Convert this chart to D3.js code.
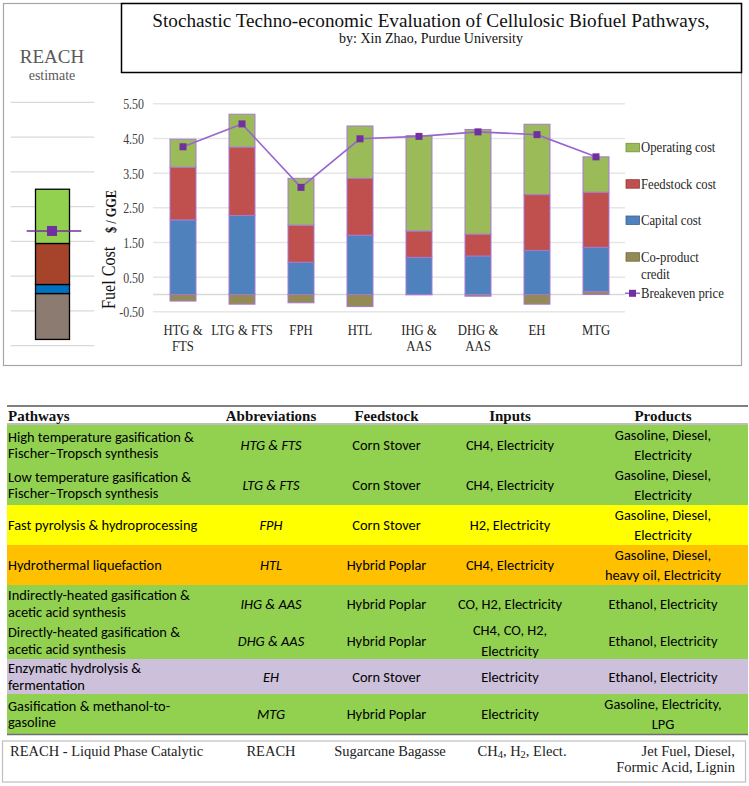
<!DOCTYPE html>
<html><head><meta charset="utf-8">
<script src="https://cdn.jsdelivr.net/npm/d3@7"></script>
<style>
html,body{margin:0;padding:0;background:#fff;}
svg{display:block;}
</style></head>
<body>
<svg id="c" width="749" height="786"></svg>
<script>
// ---------------- DATA ----------------
const categories = ["HTG & FTS","LTG & FTS","FPH","HTL","IHG & AAS","DHG & AAS","EH","MTG"];
const xLabelLines = [["HTG &","FTS"],["LTG & FTS"],["FPH"],["HTL"],["IHG &","AAS"],["DHG &","AAS"],["EH"],["MTG"]];
const capitalCost   = [2.15, 2.28, 0.93, 1.71, 1.07, 1.11, 1.27, 1.28];
const feedstockCost = [1.52, 1.97, 1.07, 1.64, 0.76, 0.63, 1.61, 1.59];
const operatingCost = [0.81, 0.95, 1.35, 1.51, 2.75, 3.02, 2.03, 1.02];
const coproductCredit = [-0.19, -0.28, -0.24, -0.35, -0.01, -0.05, -0.28, 0.08];
const breakevenPrice = [4.26, 4.92, 3.09, 4.49, 4.56, 4.69, 4.61, 3.97];
const yTicks = [-0.5, 0.5, 1.5, 2.5, 3.5, 4.5, 5.5];
const legendLabels = [["Operating cost"],["Feedstock cost"],["Capital cost"],["Co-product","credit"],["Breakeven price"]];

// REACH estimate (left panel)
const reachCapital = 0.26, reachFeedstock = 1.18, reachOperating = 1.56, reachCoproduct = -1.32, reachBreakeven = 1.80;
const reachGrid = [-1.5, -0.5, 0.5, 1.5, 2.5, 3.5, 4.5, 5.5];

const titleText = "Stochastic Techno-economic Evaluation of Cellulosic Biofuel Pathways,";
const subtitleText = "by: Xin Zhao, Purdue University";

// Table
const tableHeaders = ["Pathways","Abbreviations","Feedstock","Inputs","Products"];
const pathways = [
  ["High temperature gasification &","Fischer\u2013Tropsch synthesis"],
  ["Low temperature gasification &","Fischer\u2013Tropsch synthesis"],
  ["Fast pyrolysis & hydroprocessing"],
  ["Hydrothermal liquefaction"],
  ["Indirectly-heated gasification &","acetic acid synthesis"],
  ["Directly-heated gasification &","acetic acid synthesis"],
  ["Enzymatic hydrolysis &","fermentation"],
  ["Gasification & methanol-to-","gasoline"]];
const abbreviations = ["HTG & FTS","LTG & FTS","FPH","HTL","IHG & AAS","DHG & AAS","EH","MTG"];
const feedstocks = ["Corn Stover","Corn Stover","Corn Stover","Hybrid Poplar","Hybrid Poplar","Hybrid Poplar","Corn Stover","Hybrid Poplar"];
const inputs = [["CH4, Electricity"],["CH4, Electricity"],["H2, Electricity"],["CH4, Electricity"],["CO, H2, Electricity"],["CH4, CO, H2,","Electricity"],["Electricity"],["Electricity"]];
const products = [["Gasoline, Diesel,","Electricity"],["Gasoline, Diesel,","Electricity"],["Gasoline, Diesel,","Electricity"],["Gasoline, Diesel,","heavy oil, Electricity"],["Ethanol, Electricity"],["Ethanol, Electricity"],["Ethanol, Electricity"],["Gasoline, Electricity,","LPG"]];
const reachRow = {pathway:"REACH - Liquid Phase Catalytic", abbr:"REACH", feed:"Sugarcane Bagasse", inputs:"CH4, H2, Elect.", products:["Jet Fuel, Diesel,","Formic Acid, Lignin"]};

// ---------------- STYLES ----------------
const seriesKeys = ["coproduct","capital","feedstock","operating"];
const seriesColor = {operating:"#9BBB59", feedstock:"#C0504D", capital:"#4F81BD", coproduct:"#948A54"};
const rowFills = ["#92D050","#92D050","#FFFF00","#FFC000","#92D050","#92D050","#CCC0DA","#92D050"];
const serif = "'Liberation Serif','Times New Roman',serif";
const sans = "Carlito, Lato, 'Open Sans', sans-serif";

const svg = d3.select("#c");
svg.append("rect").attr("width",749).attr("height",786).attr("fill","#fff");

// outer frame
svg.append("rect").attr("x",3.5).attr("y",3.5).attr("width",738).attr("height",362)
  .attr("fill","none").attr("stroke","#A6A6A6").attr("stroke-width",1.2);

// title box
svg.append("rect").attr("x",121.5).attr("y",3.5).attr("width",620).attr("height",69)
  .attr("fill","#fff").attr("stroke","#000").attr("stroke-width",1.5);
svg.append("text").attr("x",431).attr("y",27).attr("text-anchor","middle")
  .style("font-family",serif).style("font-size","19.2px").attr("fill","#111").text(titleText);
svg.append("text").attr("x",431).attr("y",42.5).attr("text-anchor","middle")
  .style("font-family",serif).style("font-size","14px").attr("fill","#111").text(subtitleText);

// condensed text helper
function ctext(parent, x, y, str, opts){
  opts = opts || {};
  const g = parent.append("g").attr("transform",`translate(${x},${y})${opts.rotate?` rotate(${opts.rotate})`:""} scale(${opts.sx||0.82},1)`);
  return g.append("text").attr("text-anchor",opts.anchor||"start")
    .style("font-family",serif).style("font-size",(opts.size||15)+"px")
    .style("font-weight",opts.weight||"normal")
    .attr("fill",opts.fill||"#262626").text(str);
}

// ---------------- MAIN CHART ----------------
const x = d3.scaleBand().domain(categories).range([153.5,625.5]).paddingInner(0.56).paddingOuter(0.28);
const y = d3.scaleLinear().domain([-0.5,5.5]).range([311.8,103.8]);

const grid = svg.append("g");
grid.selectAll("line").data(yTicks.concat([0])).join("line")
  .attr("x1",153).attr("x2",625).attr("y1",d=>y(d)).attr("y2",d=>y(d))
  .attr("stroke",d=>d===0?"#D9D9D9":"#E6E6E6").attr("stroke-width",1.5);

const yAxis = svg.append("g").attr("transform","translate(144,0)")
  .call(d3.axisLeft(y).tickValues(yTicks).tickSize(0).tickPadding(0).tickFormat(d=>d.toFixed(2)));
yAxis.select(".domain").remove();
yAxis.selectAll("text").attr("transform","scale(0.85,1)").attr("dy","0.36em")
  .style("font-family",serif).style("font-size","14px").attr("fill","#404040");

const rows = categories.map((c,i)=>({cat:c, capital:capitalCost[i], feedstock:feedstockCost[i], operating:operatingCost[i], coproduct:coproductCredit[i]}));
const stacked = d3.stack().keys(seriesKeys).offset(d3.stackOffsetDiverging)(rows);
const bars = svg.append("g");
stacked.forEach(s=>{
  bars.append("g").attr("fill",seriesColor[s.key]).selectAll("rect").data(s).join("rect")
    .attr("x",d=>x(d.data.cat)).attr("width",x.bandwidth())
    .attr("y",d=>y(Math.max(d[0],d[1]))).attr("height",d=>Math.abs(y(d[0])-y(d[1])))
    .attr("stroke","#A578D6").attr("stroke-width",1);
});

// breakeven line
const lineGen = d3.line().x((d,i)=>x(categories[i])+x.bandwidth()/2).y(d=>y(d));
svg.append("path").attr("d",lineGen(breakevenPrice)).attr("fill","none")
  .attr("stroke","#9966CC").attr("stroke-width",1.6);
svg.append("g").selectAll("rect").data(breakevenPrice).join("rect")
  .attr("x",(d,i)=>x(categories[i])+x.bandwidth()/2-3.5).attr("y",d=>y(d)-3.5)
  .attr("width",7).attr("height",7).attr("fill","#7030A0");

// x labels
xLabelLines.forEach((lines,i)=>{
  lines.forEach((l,j)=>{
    ctext(svg, x(categories[i])+x.bandwidth()/2, 334.5+j*16.7, l, {anchor:"middle", size:15.5});
  });
});

// y title
ctext(svg, 115, 309, "Fuel Cost", {rotate:-90, size:19, sx:0.85, fill:"#111"});
ctext(svg, 116, 233, "$ / GGE", {rotate:-90, size:14.5, sx:0.85, weight:"bold", fill:"#111"});

// legend
const legY = [147.3, 183.7, 220, 256.7, 293.3];
const legKeys = ["operating","feedstock","capital","coproduct"];
legKeys.forEach((k,i)=>{
  svg.append("rect").attr("x",626).attr("y",legY[i]-4).attr("width",13.5).attr("height",8.5)
    .attr("fill",seriesColor[k]).attr("stroke",d3.color(seriesColor[k]).darker(0.8)).attr("stroke-width",0.8);
});
svg.append("line").attr("x1",625).attr("x2",640).attr("y1",legY[4]).attr("y2",legY[4]).attr("stroke","#9966CC").attr("stroke-width",1.6);
svg.append("rect").attr("x",629).attr("y",legY[4]-3.5).attr("width",7).attr("height",7).attr("fill","#7030A0");
legendLabels.forEach((lines,i)=>{
  lines.forEach((l,j)=>ctext(svg, 641, legY[i]+5+j*17.5, l, {size:15.5}));
});

// ---------------- REACH PANEL ----------------
const yL = d3.scaleLinear().domain([-1.5,5.5]).range([345.7,102.3]);
svg.append("g").selectAll("line").data(reachGrid).join("line")
  .attr("x1",10.7).attr("x2",94.3).attr("y1",d=>yL(d)).attr("y2",d=>yL(d))
  .attr("stroke","#D9D9D9").attr("stroke-width",1.2);
svg.append("text").attr("x",52).attr("y",63).attr("text-anchor","middle")
  .style("font-family",serif).style("font-size","19px").attr("fill","#595959").text("REACH");
svg.append("text").attr("x",52).attr("y",80).attr("text-anchor","middle")
  .style("font-family",serif).style("font-size","14px").attr("fill","#595959").text("estimate");

const reachColors = {coproduct:"#8C7B70", capital:"#0070C0", feedstock:"#A5432B", operating:"#92D050"};
const reachStack = d3.stack().keys(seriesKeys).offset(d3.stackOffsetDiverging)([{coproduct:reachCoproduct, capital:reachCapital, feedstock:reachFeedstock, operating:reachOperating}]);
reachStack.forEach(s=>{
  const d = s[0];
  svg.append("rect").attr("x",35.5).attr("width",34)
    .attr("y",yL(Math.max(d[0],d[1]))).attr("height",Math.abs(yL(d[0])-yL(d[1])))
    .attr("fill",reachColors[s.key]).attr("stroke","#000").attr("stroke-width",1.3);
});
svg.append("line").attr("x1",26.7).attr("x2",81.3).attr("y1",yL(reachBreakeven)).attr("y2",yL(reachBreakeven))
  .attr("stroke","#7030A0").attr("stroke-width",1.5);
svg.append("rect").attr("x",47).attr("y",yL(reachBreakeven)-5).attr("width",10).attr("height",10)
  .attr("fill","#7030A0");

// ---------------- TABLE ----------------
const rowEdges = [425,465,505,545,585,622,659,694,734];
const colX = {path:8, abbr:271, feed:386.5, inp:510, prod:663};
const T = svg.append("g");
rowFills.forEach((f,i)=>{
  T.append("rect").attr("x",7).attr("width",741).attr("y",rowEdges[i]).attr("height",rowEdges[i+1]-rowEdges[i]).attr("fill",f);
});
T.append("line").attr("x1",7).attr("x2",748).attr("y1",406).attr("y2",406).attr("stroke","#7F7F7F").attr("stroke-width",1.8);
T.append("line").attr("x1",7).attr("x2",748).attr("y1",424).attr("y2",424).attr("stroke","#7F7F7F").attr("stroke-width",1.2);
T.append("line").attr("x1",7).attr("x2",748).attr("y1",734.5).attr("y2",734.5).attr("stroke","#6F6F6F").attr("stroke-width",1.6);

const headerX = [colX.path, colX.abbr, colX.feed, colX.inp, colX.prod];
tableHeaders.forEach((h,i)=>{
  T.append("text").attr("x",headerX[i]).attr("y",420.5).attr("text-anchor",i===0?"start":"middle")
    .style("font-family",serif).style("font-size","15px").style("font-weight","bold").attr("fill","#111").text(h);
});

function cell(lines, cx, rowIdx, anchor, lh, italic){
  const mid = (rowEdges[rowIdx]+rowEdges[rowIdx+1])/2 + 5;
  lines.forEach((l,j)=>{
    T.append("text").attr("x",cx).attr("y",mid+(j-(lines.length-1)/2)*lh)
      .attr("text-anchor",anchor).style("font-family",sans).style("font-size","14.4px")
      .style("font-style",italic?"italic":"normal").attr("fill","#000").text(l);
  });
}
for(let i=0;i<8;i++){
  cell(pathways[i], colX.path, i, "start", 16.7);
  cell([abbreviations[i]], colX.abbr, i, "middle", 0, true);
  cell([feedstocks[i]], colX.feed, i, "middle", 0);
  cell(inputs[i], colX.inp, i, "middle", 20.7);
  cell(products[i], colX.prod, i, "middle", 20.7);
}

// REACH row
T.append("rect").attr("x",2.5).attr("y",741).attr("width",743).attr("height",41)
  .attr("fill","#fff").attr("stroke","#BFBFBF").attr("stroke-width",1.2);
function stext(x, yy, str, anchor){
  return T.append("text").attr("x",x).attr("y",yy).attr("text-anchor",anchor)
    .style("font-family",serif).style("font-size","14.5px").attr("fill","#222").text(str);
}
stext(10, 756, reachRow.pathway, "start");
stext(271, 756, reachRow.abbr, "middle");
stext(390, 756, reachRow.feed, "middle");
// inputs with subscripts
const inpT = T.append("text").attr("x",522).attr("y",756).attr("text-anchor","middle")
  .style("font-family",serif).style("font-size","14.5px").attr("fill","#222");
let prevSub = false;
reachRow.inputs.split(/(\d)/).forEach(part=>{
  if(!part) return;
  const isSub = /^\d$/.test(part);
  inpT.append("tspan").style("font-size",isSub?"10.5px":null)
    .attr("dy", isSub ? "2" : (prevSub ? "-2" : "0")).text(part);
  prevSub = isSub;
});
reachRow.products.forEach((l,j)=>stext(735, 756+j*16, l, "end"));
</script>
</body></html>
